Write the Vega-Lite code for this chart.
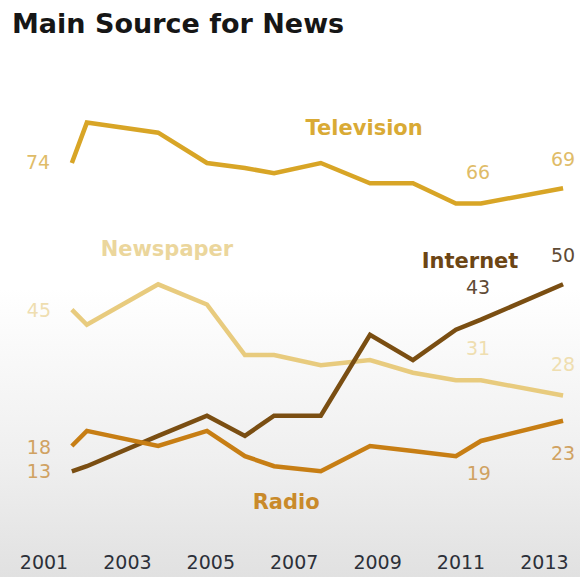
{
  "$schema": "https://vega.github.io/schema/vega-lite/v6.json",
  "width": 580,
  "height": 577,
  "autosize": {"type": "none"},
  "padding": 0,
  "background": "#ffffff",
  "config": {
    "font": "DejaVu Sans",
    "view": {
      "stroke": null,
      "fill": {
        "gradient": "linear",
        "x1": 0, "y1": 0, "x2": 0, "y2": 1,
        "stops": [
          {"offset": 0, "color": "#ffffff"},
          {"offset": 0.5, "color": "#ffffff"},
          {"offset": 0.8, "color": "#efefef"},
          {"offset": 1, "color": "#e1e1e1"}
        ]
      }
    }
  },
  "title": {
    "text": "Main Source for News",
    "anchor": "start",
    "frame": "group",
    "orient": "top",
    "offset": -60,
    "dx": 12,
    "baseline": "alphabetic",
    "fontSize": 27,
    "fontWeight": "bold",
    "font": "DejaVu Sans",
    "color": "#161616"
  },
  "datasets": {
    "lines": [
      {"series": "Television", "year": 2001.68, "value": 74},
      {"series": "Television", "year": 2002.04, "value": 82},
      {"series": "Television", "year": 2003.75, "value": 80},
      {"series": "Television", "year": 2004.92, "value": 74},
      {"series": "Television", "year": 2005.83, "value": 73},
      {"series": "Television", "year": 2006.53, "value": 72},
      {"series": "Television", "year": 2007.65, "value": 74},
      {"series": "Television", "year": 2008.83, "value": 70},
      {"series": "Television", "year": 2009.86, "value": 70},
      {"series": "Television", "year": 2010.89, "value": 66},
      {"series": "Television", "year": 2011.49, "value": 66},
      {"series": "Television", "year": 2013.46, "value": 69},
      {"series": "Newspaper", "year": 2001.68, "value": 45},
      {"series": "Newspaper", "year": 2002.04, "value": 42},
      {"series": "Newspaper", "year": 2003.75, "value": 50},
      {"series": "Newspaper", "year": 2004.92, "value": 46},
      {"series": "Newspaper", "year": 2005.83, "value": 36},
      {"series": "Newspaper", "year": 2006.53, "value": 36},
      {"series": "Newspaper", "year": 2007.65, "value": 34},
      {"series": "Newspaper", "year": 2008.83, "value": 35},
      {"series": "Newspaper", "year": 2009.86, "value": 32.5},
      {"series": "Newspaper", "year": 2010.89, "value": 31},
      {"series": "Newspaper", "year": 2011.49, "value": 31},
      {"series": "Newspaper", "year": 2013.46, "value": 28},
      {"series": "Internet", "year": 2001.68, "value": 13},
      {"series": "Internet", "year": 2002.04, "value": 14},
      {"series": "Internet", "year": 2003.75, "value": 20},
      {"series": "Internet", "year": 2004.92, "value": 24},
      {"series": "Internet", "year": 2005.83, "value": 20},
      {"series": "Internet", "year": 2006.53, "value": 24},
      {"series": "Internet", "year": 2007.65, "value": 24},
      {"series": "Internet", "year": 2008.83, "value": 40},
      {"series": "Internet", "year": 2009.86, "value": 35},
      {"series": "Internet", "year": 2010.89, "value": 41},
      {"series": "Internet", "year": 2011.49, "value": 43},
      {"series": "Internet", "year": 2013.46, "value": 50},
      {"series": "Radio", "year": 2001.68, "value": 18},
      {"series": "Radio", "year": 2002.04, "value": 21},
      {"series": "Radio", "year": 2003.75, "value": 18},
      {"series": "Radio", "year": 2004.92, "value": 21},
      {"series": "Radio", "year": 2005.83, "value": 16},
      {"series": "Radio", "year": 2006.53, "value": 14},
      {"series": "Radio", "year": 2007.65, "value": 13},
      {"series": "Radio", "year": 2008.83, "value": 18},
      {"series": "Radio", "year": 2009.86, "value": 17},
      {"series": "Radio", "year": 2010.89, "value": 16},
      {"series": "Radio", "year": 2011.49, "value": 19},
      {"series": "Radio", "year": 2013.46, "value": 23}
    ],
    "names": [
      {"series": "Television", "label": "Television", "year": 2008.69, "value": 80.7},
      {"series": "Newspaper", "label": "Newspaper", "year": 2003.96, "value": 56.8},
      {"series": "Internet", "label": "Internet", "year": 2011.23, "value": 54.4},
      {"series": "Radio", "label": "Radio", "year": 2006.82, "value": 6.7}
    ],
    "values": [
      {"series": "Television", "label": "74", "year": 2000.87, "value": 74.0},
      {"series": "Television", "label": "66", "year": 2011.42, "value": 72.0},
      {"series": "Television", "label": "69", "year": 2013.46, "value": 74.6},
      {"series": "Newspaper", "label": "45", "year": 2000.89, "value": 44.7},
      {"series": "Newspaper", "label": "31", "year": 2011.42, "value": 37.2},
      {"series": "Newspaper", "label": "28", "year": 2013.46, "value": 34.0},
      {"series": "Internet", "label": "50", "year": 2013.46, "value": 55.6},
      {"series": "Internet", "label": "43", "year": 2011.42, "value": 49.3},
      {"series": "Radio", "label": "18", "year": 2000.89, "value": 17.6},
      {"series": "Radio", "label": "13", "year": 2000.89, "value": 12.9},
      {"series": "Radio", "label": "19", "year": 2011.44, "value": 12.5},
      {"series": "Radio", "label": "23", "year": 2013.46, "value": 16.4}
    ]
  },
  "layer": [
    {
      "data": {"name": "lines"},
      "mark": {"type": "line", "strokeWidth": 4.5, "strokeJoin": "miter", "strokeCap": "butt"},
      "encoding": {
        "x": {
          "field": "year", "type": "quantitative",
          "scale": {"domain": [1999.957, 2013.866], "nice": false, "zero": false},
          "axis": {
            "values": [2001, 2003, 2005, 2007, 2009, 2011, 2013],
            "format": "d",
            "offset": -40,
            "domain": false,
            "ticks": false,
            "grid": false,
            "labelFontSize": 19,
            "labelFont": "DejaVu Sans",
            "labelColor": "#2c3039",
            "labelPadding": 16,
            "labelFlush": false,
            "labelOverlap": false,
            "title": null
          }
        },
        "y": {
          "field": "value", "type": "quantitative",
          "scale": {"domain": [-7.92, 106.26], "nice": false, "zero": false},
          "axis": null
        },
        "color": {
          "field": "series", "type": "nominal",
          "scale": {
            "domain": ["Television", "Newspaper", "Internet", "Radio"],
            "range": ["#d8a526", "#e8cb7e", "#7a4e12", "#c77e14"]
          },
          "legend": null
        }
      }
    },
    {
      "mark": {"type": "rule", "color": "#7c7c7c", "strokeWidth": 1.5},
      "encoding": {
        "x": {"datum": 2001, "type": "quantitative"},
        "x2": {"datum": 2013.83},
        "y": {"datum": 0, "type": "quantitative"}
      }
    },
    {
      "data": {"name": "names"},
      "mark": {"type": "text", "fontSize": 21, "fontWeight": "bold", "font": "DejaVu Sans", "align": "center", "baseline": "middle"},
      "encoding": {
        "x": {"field": "year", "type": "quantitative"},
        "y": {"field": "value", "type": "quantitative"},
        "text": {"field": "label"},
        "color": {
          "field": "series", "type": "nominal",
          "scale": {
            "domain": ["Television", "Newspaper", "Internet", "Radio"],
            "range": ["#d9aa35", "#ebd69c", "#6c4514", "#c98a2a"]
          },
          "legend": null
        }
      }
    },
    {
      "data": {"name": "values"},
      "mark": {"type": "text", "fontSize": 19, "font": "DejaVu Sans", "align": "center", "baseline": "middle"},
      "encoding": {
        "x": {"field": "year", "type": "quantitative"},
        "y": {"field": "value", "type": "quantitative"},
        "text": {"field": "label"},
        "color": {
          "field": "series", "type": "nominal",
          "scale": {
            "domain": ["Television", "Newspaper", "Internet", "Radio"],
            "range": ["#dfbc68", "#efdeb0", "#5f4b35", "#d0a262"]
          },
          "legend": null
        }
      }
    }
  ],
  "resolve": {"scale": {"color": "independent"}}
}
